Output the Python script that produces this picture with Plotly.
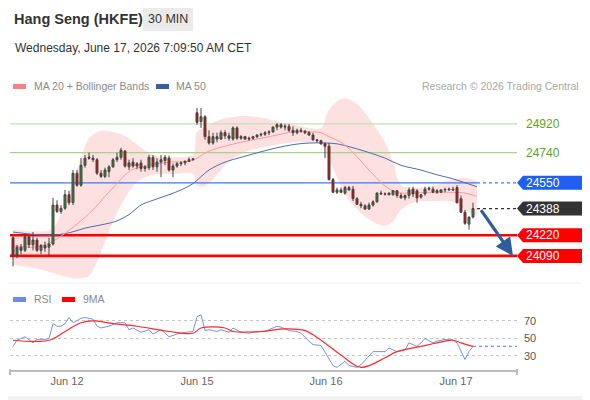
import plotly.graph_objects as go

# ---- chart data (30 min bars, index = bar number) ----
open_ = [24205, 24095, 24145, 24125, 24210, 24160, 24190, 24125, 24155, 24145,
         24165, 24410, 24370, 24390, 24475, 24425, 24610, 24535, 24660, 24712,
         24705, 24695, 24610, 24590, 24620, 24650, 24695, 24710, 24750, 24650,
         24680, 24655, 24675, 24640, 24645, 24710, 24650, 24680, 24690, 24705,
         24630, 24655, 24670, 24675, 24685, 24695, 24990, 24935, 24965, 24840,
         24800, 24840, 24825, 24865, 24845, 24825, 24895, 24830, 24840, 24825,
         24830, 24840, 24850, 24855, 24865, 24870, 24900, 24915, 24900, 24905,
         24880, 24865, 24880, 24875, 24865, 24850, 24820, 24815, 24795, 24780,
         24570, 24490, 24505, 24485, 24520, 24510, 24450, 24415, 24405, 24385,
         24410, 24430, 24485, 24480, 24475, 24475, 24500, 24470, 24455, 24470,
         24510, 24500, 24460, 24480, 24510, 24510, 24500, 24490, 24505, 24505,
         24510, 24520, 24450, 24365, 24290, 24335]
high = [24215, 24160, 24165, 24230, 24220, 24240, 24205, 24165, 24180, 24205,
        24455, 24440, 24410, 24505, 24500, 24630, 24630, 24705, 24725, 24740,
        24725, 24705, 24630, 24645, 24660, 24705, 24740, 24770, 24755, 24695,
        24705, 24680, 24695, 24660, 24725, 24725, 24705, 24725, 24725, 24720,
        24670, 24680, 24685, 24690, 24710, 24705, 25020, 25020, 24975, 24880,
        24865, 24865, 24880, 24880, 24865, 24905, 24905, 24850, 24845, 24840,
        24845, 24855, 24865, 24875, 24880, 24905, 24925, 24925, 24920, 24920,
        24905, 24890, 24895, 24880, 24875, 24865, 24825, 24820, 24805, 24800,
        24580, 24520, 24520, 24530, 24530, 24530, 24460, 24430, 24415, 24425,
        24440, 24490, 24500, 24490, 24490, 24505, 24505, 24485, 24475, 24520,
        24525, 24510, 24475, 24525, 24525, 24525, 24510, 24510, 24520, 24520,
        24525, 24535, 24470, 24380, 24335, 24425]
low = [24025, 24075, 24100, 24115, 24140, 24125, 24115, 24100, 24115, 24095,
       24155, 24360, 24355, 24380, 24410, 24410, 24525, 24525, 24645, 24695,
       24680, 24600, 24580, 24580, 24585, 24645, 24680, 24695, 24645, 24630,
       24645, 24635, 24620, 24620, 24630, 24630, 24620, 24585, 24660, 24620,
       24585, 24645, 24655, 24660, 24680, 24690, 24915, 24895, 24820, 24790,
       24790, 24805, 24820, 24825, 24815, 24815, 24820, 24820, 24820, 24815,
       24820, 24830, 24840, 24845, 24850, 24865, 24880, 24890, 24880, 24870,
       24845, 24855, 24865, 24855, 24845, 24815, 24805, 24790, 24705, 24565,
       24485, 24480, 24485, 24475, 24500, 24435, 24410, 24390, 24380, 24380,
       24400, 24425, 24475, 24470, 24470, 24470, 24455, 24450, 24440, 24450,
       24460, 24425, 24450, 24470, 24500, 24485, 24480, 24485, 24490, 24500,
       24500, 24420, 24360, 24285, 24255, 24325]
close = [24090, 24145, 24125, 24210, 24160, 24190, 24125, 24155, 24140, 24165,
         24410, 24370, 24390, 24475, 24425, 24610, 24535, 24660, 24705, 24705,
         24695, 24610, 24590, 24630, 24650, 24695, 24710, 24755, 24655, 24675,
         24655, 24670, 24640, 24650, 24710, 24650, 24680, 24695, 24710, 24630,
         24655, 24670, 24675, 24685, 24695, 24700, 24930, 24965, 24840, 24800,
         24840, 24825, 24865, 24845, 24830, 24895, 24830, 24840, 24825, 24830,
         24840, 24850, 24855, 24865, 24870, 24900, 24915, 24900, 24905, 24880,
         24865, 24880, 24875, 24865, 24850, 24820, 24815, 24795, 24780, 24570,
         24490, 24505, 24490, 24520, 24505, 24450, 24415, 24405, 24385, 24410,
         24430, 24485, 24480, 24478, 24485, 24500, 24470, 24455, 24470, 24505,
         24480, 24455, 24475, 24510, 24515, 24490, 24490, 24505, 24508, 24510,
         24505, 24425, 24365, 24295, 24335, 24388]

ma20_idx = [0, 5, 9, 12, 16, 20, 23, 26, 28, 30, 34, 39, 44, 46, 49, 53, 57,
            62, 66, 70, 74, 77, 79, 82, 85, 89, 93, 96, 100, 104, 110, 113, 116]
ma20 = [24155, 24145, 24170, 24215, 24290, 24380, 24465, 24545, 24600, 24635,
        24660, 24680, 24685, 24705, 24750, 24780, 24805, 24830, 24850, 24870,
        24870, 24865, 24840, 24805, 24740, 24630, 24530, 24490, 24485, 24490,
        24490, 24485, 24465]

bb_idx = [0, 5, 9, 11, 13, 15, 17, 19, 22, 25, 28, 31, 35, 40, 45, 46, 48, 51,
          54, 58, 62, 66, 70, 74, 77, 79, 82, 84, 87, 90, 93, 95, 97, 100, 105,
          110, 113, 116]
bb_upper = [24255, 24245, 24250, 24300, 24420, 24560, 24700, 24830, 24875,
            24870, 24845, 24790, 24725, 24710, 24730, 24870, 24900, 24940,
            24960, 24970, 24960, 24935, 24915, 24895, 24895, 25010, 25075,
            25075, 25020, 24920, 24805, 24680, 24535, 24520, 24530, 24570,
            24580, 24560]
bb_lower = [24035, 24015, 23990, 23975, 23960, 23950, 23950, 23965, 24115,
            24305, 24455, 24555, 24600, 24605, 24605, 24535, 24530, 24600,
            24685, 24745, 24770, 24790, 24805, 24805, 24790, 24695, 24530,
            24440, 24360, 24305, 24280, 24305, 24380, 24425, 24435, 24430,
            24380, 24340]

ma50_idx = [0, 9, 14, 18, 22, 26, 29, 32, 35, 39, 42, 45, 49, 53, 57, 62, 66,
            70, 74, 78, 81, 85, 89, 93, 97, 102, 106, 110, 113, 116]
ma50 = [24240, 24220, 24235, 24265, 24285, 24310, 24350, 24410, 24440, 24475,
        24505, 24545, 24630, 24680, 24710, 24745, 24770, 24790, 24800, 24800,
        24795, 24770, 24740, 24705, 24660, 24630, 24600, 24575, 24550, 24525]

rsi_idx = [0, 1, 3, 5, 6, 8, 9, 10, 11, 12, 13, 14, 15, 17, 18, 20, 21, 22, 24,
           26, 28, 29, 30, 32, 34, 35, 37, 39, 41, 43, 45, 46, 47, 48, 49, 51,
           52, 54, 55, 57, 59, 61, 63, 64, 66, 67, 69, 71, 72, 74, 75, 77, 79,
           80, 81, 83, 84, 86, 87, 88, 90, 93, 94, 96, 98, 99, 101, 102, 103,
           105, 106, 108, 110, 111, 113, 114, 115]
rsi = [41, 48, 52, 45, 49, 49, 50, 67, 64, 64, 67, 74, 68, 73, 74, 72, 64, 62,
       64, 68, 68, 60, 62, 57, 60, 55, 60, 52, 55, 57, 58, 75, 77, 59, 60, 58,
       60, 57, 62, 57, 56, 58, 58, 60, 64, 63, 59, 58, 56, 47, 43, 42, 26, 19,
       17, 24, 19, 17, 20, 25, 35, 35, 39, 35, 37, 45, 41, 45, 50, 45, 47, 49,
       48, 45, 26, 35, 41]
ma9_idx = [0, 9, 13, 17, 20, 25, 31, 39, 45, 47, 53, 55, 62, 68, 73, 77, 82,
           87, 93, 96, 102, 106, 110, 112, 115]
ma9 = [48, 48, 58, 68, 70, 67, 64, 58, 56, 62, 62, 58, 58, 61, 59, 48, 31, 17,
       28, 35, 41, 45, 48, 45, 41]

resistances = [24920, 24740]
pivot = 24550
last_price = 24388
supports = [24220, 24090]
target_bar, target_price = 125, 24090

day_ticks = [13.5, 46, 78.25, 110.75]
day_labels = ["Jun 12", "Jun 15", "Jun 16", "Jun 17"]
rsi_ticks = [30, 50, 70]

# ---- layout helpers: positions given in screenshot pixels ----
# the page body adds an 8px margin, so the figure starts at (8, 8)
OFF = 8
W, H = 582, 392
M = dict(l=2, r=73, t=87, b=30)
PW = W - M["l"] - M["r"]
PH = H - M["t"] - M["b"]


def px(x):
    return (x - OFF - M["l"]) / PW


def py(y):
    return (H - M["b"] - (y - OFF)) / PH


FONT = "Liberation Sans, Arial, sans-serif"
bars = list(range(len(close)))
x_range = [-0.75, 126]
y_range = [23926, 25102]
end_bar = len(close)

fig = go.Figure()

# bollinger band
fig.add_trace(go.Scatter(x=bb_idx, y=bb_upper, mode="lines",
                         line=dict(width=0, shape="spline"),
                         hoverinfo="skip", showlegend=False))
fig.add_trace(go.Scatter(x=bb_idx, y=bb_lower, mode="lines",
                         line=dict(width=0, shape="spline"), fill="tonexty",
                         fillcolor="#fde0e0", hoverinfo="skip", showlegend=False))

# key levels
for lvl, col in zip(resistances, ["#c5e0b0", "#a8d48a"]):
    fig.add_trace(go.Scatter(x=x_range, y=[lvl, lvl], mode="lines",
                             line=dict(color=col, width=1.3), showlegend=False))
fig.add_trace(go.Scatter(x=[x_range[0], end_bar], y=[pivot, pivot], mode="lines",
                         line=dict(color="#3b78f0", width=1.3), showlegend=False))
fig.add_trace(go.Scatter(x=[end_bar, x_range[1]], y=[pivot, pivot], mode="lines",
                         line=dict(color="#3b78f0", width=1.3, dash="dot"),
                         showlegend=False))
fig.add_trace(go.Scatter(x=[end_bar, x_range[1]], y=[last_price, last_price],
                         mode="lines", line=dict(color="#333333", width=1.2, dash="dot"),
                         showlegend=False))
for lvl in supports:
    fig.add_trace(go.Scatter(x=x_range, y=[lvl, lvl], mode="lines",
                             line=dict(color="#ff0000", width=2.6), showlegend=False))

# moving averages
fig.add_trace(go.Scatter(x=ma50_idx, y=ma50, mode="lines",
                         line=dict(color="#4a6fb0", width=1, shape="spline"),
                         showlegend=False))
fig.add_trace(go.Scatter(x=ma20_idx, y=ma20, mode="lines",
                         line=dict(color="#ff9a9a", width=1, shape="spline"),
                         showlegend=False))

# candles sit on an overlaying axis pair so they are drawn above the band fill
fig.add_trace(go.Candlestick(
    x=bars, open=open_, high=high, low=low, close=close,
    xaxis="x3", yaxis="y3",
    increasing=dict(line=dict(color="#444444", width=1), fillcolor="#2f8a2f"),
    decreasing=dict(line=dict(color="#444444", width=1), fillcolor="#e00000"),
    whiskerwidth=0, showlegend=False))

# RSI panel
fig.add_trace(go.Scatter(x=rsi_idx, y=rsi, mode="lines", xaxis="x2", yaxis="y2",
                         line=dict(color="#7393ea", width=1), showlegend=False))
fig.add_trace(go.Scatter(x=[rsi_idx[-1], x_range[1]], y=[rsi[-1], rsi[-1]],
                         mode="lines", xaxis="x2", yaxis="y2",
                         line=dict(color="#7393ea", width=1.2, dash="dot"),
                         showlegend=False))
fig.add_trace(go.Scatter(x=ma9_idx, y=ma9, mode="lines", xaxis="x2", yaxis="y2",
                         line=dict(color="#ff2a2a", width=1.2, shape="spline"),
                         showlegend=False))

shapes = [
    dict(type="rect", xref="paper", yref="paper", x0=px(2), x1=px(586),
         y0=py(2), y1=py(396), fillcolor="white", line=dict(width=0), layer="below"),
    dict(type="rect", xref="paper", yref="paper", x0=px(143), x1=px(193),
         y0=py(7), y1=py(31), fillcolor="#ebebeb", line=dict(width=0), layer="below"),
    dict(type="line", xref="paper", yref="paper", x0=px(3), x1=px(585),
         y0=py(283), y1=py(283), line=dict(color="#eeeeee", width=1)),
    # legend swatches
    dict(type="rect", xref="paper", yref="paper", x0=px(13), x1=px(26),
         y0=py(84), y1=py(89), fillcolor="#ff8080", line=dict(width=0)),
    dict(type="rect", xref="paper", yref="paper", x0=px(156), x1=px(169),
         y0=py(84), y1=py(89), fillcolor="#3a5f9e", line=dict(width=0)),
    dict(type="rect", xref="paper", yref="paper", x0=px(13), x1=px(26),
         y0=py(297), y1=py(302), fillcolor="#6a8de8", line=dict(width=0)),
    dict(type="rect", xref="paper", yref="paper", x0=px(62), x1=px(75),
         y0=py(297), y1=py(302), fillcolor="#ff0000", line=dict(width=0)),
    # axis end stubs
    dict(type="line", xref="paper", yref="paper", x0=0, x1=0, y0=py(369),
         y1=py(375), line=dict(color="#bdbdbd", width=2)),
    dict(type="line", xref="paper", yref="paper", x0=1, x1=1, y0=py(369),
         y1=py(375), line=dict(color="#bdbdbd", width=2)),
]

annotations = [
    dict(text="<b>Hang Seng (HKFE)</b>", x=px(12), y=py(19), xanchor="left",
         font=dict(size=14.5, color="#333333")),
    dict(text="30 MIN", x=px(168), y=py(19), xanchor="center",
         font=dict(size=12.5, color="#333333")),
    dict(text="Wednesday, June 17, 2026 7:09:50 AM CET", x=px(13), y=py(48),
         xanchor="left", font=dict(size=12, color="#333333")),
    dict(text="MA 20 + Bollinger Bands", x=px(32), y=py(86), xanchor="left",
         font=dict(size=10.5, color="#8a8a8a")),
    dict(text="MA 50", x=px(174), y=py(86), xanchor="left",
         font=dict(size=10.5, color="#8a8a8a")),
    dict(text="Research © 2026 Trading Central", x=px(581), y=py(86),
         xanchor="right", font=dict(size=10.5, color="#a8a8a8")),
    dict(text="RSI", x=px(32), y=py(299), xanchor="left",
         font=dict(size=10.5, color="#8a8a8a")),
    dict(text="9MA", x=px(81), y=py(299), xanchor="left",
         font=dict(size=10.5, color="#8a8a8a")),
]
for a in annotations:
    a.update(xref="paper", yref="paper", showarrow=False, yanchor="middle")

# level tags on the right
tag_path = "M 0,0 L 6,7 L 70,7 L 70,-7 L 6,-7 Z"
tags = [(pivot, "#1f5ff2"), (last_price, "#333333"),
        (supports[0], "#ff0000"), (supports[1], "#ff0000")]
for lvl, col in tags:
    shapes.append(dict(type="path", xref="paper", yref="y", xsizemode="pixel",
                       ysizemode="pixel", xanchor=1, yanchor=lvl, path=tag_path,
                       fillcolor=col, line=dict(width=0)))
    annotations.append(dict(text=str(lvl), xref="paper", yref="y", x=1, y=lvl,
                            xanchor="left", yanchor="middle", xshift=7,
                            showarrow=False, font=dict(size=12, color="white")))
for lvl in resistances:
    annotations.append(dict(text=str(lvl), xref="paper", yref="y", x=1, y=lvl,
                            xanchor="left", yanchor="middle", xshift=7,
                            showarrow=False, font=dict(size=12, color="#5ea51f")))

# forecast arrow
annotations.append(dict(x=target_bar, y=target_price, ax=end_bar + 0.75,
                        ay=last_price, xref="x", yref="y", axref="x", ayref="y",
                        showarrow=True, arrowhead=2, arrowsize=1.1, arrowwidth=3.2,
                        arrowcolor="#2f5d9b", text=""))

fig.update_layout(
    width=W, height=H, margin=M,
    paper_bgcolor="#f2f2f2", plot_bgcolor="rgba(0,0,0,0)",
    font=dict(family=FONT),
    showlegend=False,
    xaxis=dict(domain=[0, 1], range=x_range, visible=False, fixedrange=True),
    yaxis=dict(domain=[0.32, 1], range=y_range, visible=False),
    xaxis3=dict(overlaying="x", range=x_range, visible=False,
                rangeslider=dict(visible=False)),
    yaxis3=dict(overlaying="y", range=y_range, visible=False),
    xaxis2=dict(domain=[0, 1], range=x_range, anchor="y2", tickvals=day_ticks,
                ticktext=day_labels, showline=True, linecolor="#bdbdbd",
                linewidth=2, showgrid=False, zeroline=False, ticks="",
                tickfont=dict(size=11, color="#666666")),
    yaxis2=dict(domain=[0, 0.22], range=[14, 83.1], anchor="x2", side="right",
                tickvals=rsi_ticks, showgrid=True, gridcolor="#c4c4c4",
                griddash="dot", zeroline=False, showline=False, ticks="",
                ticklabelstandoff=6, tickfont=dict(size=11, color="#555555")),
    shapes=shapes,
    annotations=annotations,
)

fig.write_html("out.html")
